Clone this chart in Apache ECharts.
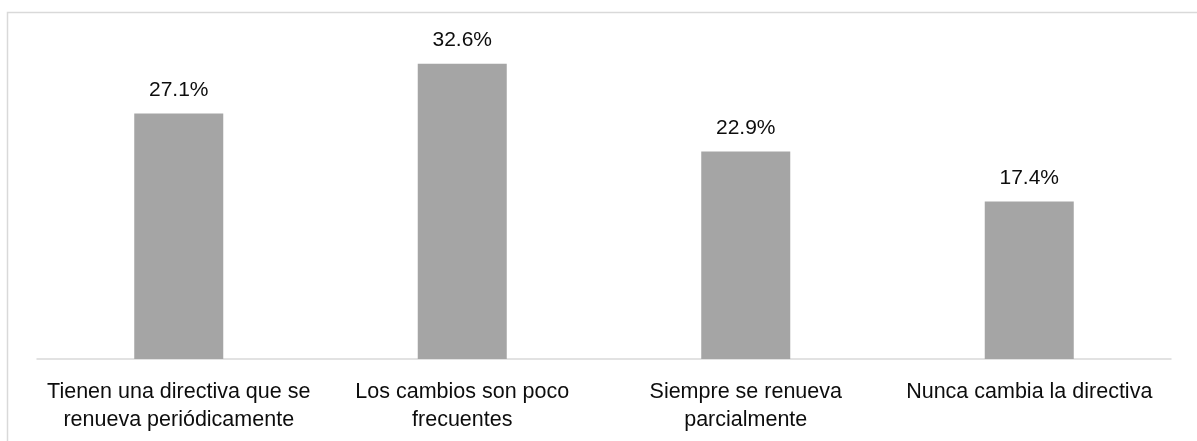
<!DOCTYPE html>
<html>
<head>
<meta charset="utf-8">
<script src="https://cdn.jsdelivr.net/npm/echarts@6/dist/echarts.min.js"></script>
<style>
html,body{margin:0;padding:0;background:#fff;}
#chart{width:1197px;height:441px;}
</style>
</head>
<body>
<div id="chart"></div>
<script>
const categories = [
  "Tienen una directiva que se\nrenueva periódicamente",
  "Los cambios son poco\nfrecuentes",
  "Siempre se renueva\nparcialmente",
  "Nunca cambia la directiva"
];
const values = [27.1, 32.6, 22.9, 17.4];

const FONT = "Liberation Sans";
const chart = echarts.init(document.getElementById('chart'), null, {renderer: 'canvas'});
chart.setOption({
  animation: false,
  backgroundColor: '#ffffff',
  textStyle: {fontFamily: FONT},
  graphic: [{
    type: 'rect',
    silent: true,
    shape: {x: 7.5, y: 12.5, width: 1300, height: 600},
    style: {fill: 'none', stroke: '#d9d9d9', lineWidth: 1.5}
  }],
  grid: {left: 37, right: 26, top: 42, bottom: 82, containLabel: false},
  xAxis: {
    type: 'category',
    data: categories,
    axisLine: {lineStyle: {color: '#d9d9d9', width: 1.5}},
    axisTick: {show: false},
    axisLabel: {
      interval: 0,
      color: '#0d0d0d',
      fontFamily: FONT,
      fontSize: 21.5,
      lineHeight: 28,
      margin: 19
    }
  },
  yAxis: {
    type: 'value',
    min: 0,
    max: 35,
    show: false,
    splitLine: {show: false}
  },
  series: [{
    type: 'bar',
    data: values,
    barWidth: 89,
    itemStyle: {color: '#a5a5a5'},
    label: {
      show: true,
      position: 'top',
      distance: 13,
      color: '#0d0d0d',
      fontFamily: FONT,
      fontSize: 21,
      formatter: p => p.value.toFixed(1) + '%'
    }
  }]
});
</script>
</body>
</html>
